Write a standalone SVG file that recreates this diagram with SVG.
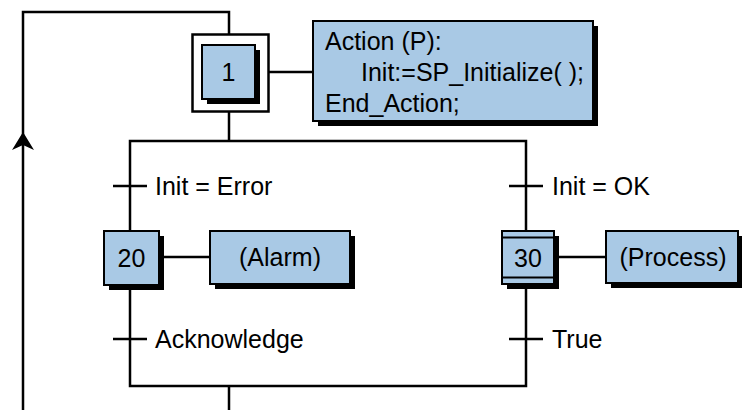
<svg xmlns="http://www.w3.org/2000/svg" width="742" height="410" viewBox="0 0 742 410">
<defs>
<style>
.ln{fill:none;stroke:#000;stroke-width:2.5}
.bx{fill:#a9c9e5;stroke:#000;stroke-width:2}
.sh{fill:#000}
.t{font-family:"Liberation Sans",Arial,sans-serif;font-size:25px;fill:#000}
.c{text-anchor:middle}
</style>
</defs>
<rect width="742" height="410" fill="#fff"/>
<g id="connectors">
<polyline class="ln" points="23,410 23,12 229,12 229,34"/>
<path d="M23,132 L12,150 L23,145 L34,150 Z" fill="#000"/>
<line class="ln" x1="269" y1="72" x2="313" y2="72"/>
<line class="ln" x1="229" y1="112" x2="229" y2="141"/>
<polyline class="ln" points="130,231 130,141 526,141 526,231"/>
<polyline class="ln" points="130,285 130,386 526,386 526,285"/>
<line class="ln" x1="229" y1="386" x2="229" y2="410"/>
<line class="ln" x1="160" y1="257" x2="210" y2="257"/>
<line class="ln" x1="554" y1="257" x2="606" y2="257"/>
</g>
<g id="t_error">
<line class="ln" x1="113" y1="186" x2="147" y2="186"/>
<text class="t" x="155" y="195">Init = Error</text>
</g>
<g id="t_ok">
<line class="ln" x1="509" y1="186" x2="543" y2="186"/>
<text class="t" x="552" y="195">Init = OK</text>
</g>
<g id="t_ack">
<line class="ln" x1="113" y1="339" x2="147" y2="339"/>
<text class="t" x="155" y="348">Acknowledge</text>
</g>
<g id="t_true">
<line class="ln" x1="509" y1="339" x2="543" y2="339"/>
<text class="t" x="552" y="348">True</text>
</g>
<g id="step1">
<rect x="192.5" y="34.5" width="76" height="77" fill="#fff" stroke="#000" stroke-width="2.5"/>
<rect class="sh" x="207" y="50" width="53" height="54"/>
<rect class="bx" x="202" y="45" width="53" height="54"/>
<text class="t c" x="228.5" y="81">1</text>
</g>
<g id="action1">
<rect class="sh" x="318" y="26" width="280" height="100"/>
<rect class="bx" x="313" y="21" width="280" height="100"/>
<text class="t" x="325" y="50">Action (P):</text>
<text class="t" x="361" y="81">Init:=SP_Initialize( );</text>
<text class="t" x="325" y="112">End_Action;</text>
</g>
<g id="step20">
<rect class="sh" x="109" y="236" width="55" height="54"/>
<rect class="bx" x="104" y="231" width="55" height="54"/>
<text class="t c" x="131.5" y="267">20</text>
</g>
<g id="alarm">
<rect class="sh" x="215" y="236" width="140" height="53"/>
<rect class="bx" x="210" y="231" width="140" height="53"/>
<text class="t c" x="280" y="266">(Alarm)</text>
</g>
<g id="step30">
<rect class="sh" x="507" y="236" width="52" height="53"/>
<rect class="bx" x="502" y="231" width="52" height="53"/>
<line x1="502" y1="237.5" x2="554" y2="237.5" stroke="#000" stroke-width="2"/>
<line x1="502" y1="277.5" x2="554" y2="277.5" stroke="#000" stroke-width="2"/>
<text class="t c" x="528" y="267">30</text>
</g>
<g id="process">
<rect class="sh" x="611" y="236" width="131" height="52"/>
<rect class="bx" x="606" y="231" width="132" height="52"/>
<text class="t c" x="673" y="266">(Process)</text>
</g>
</svg>
